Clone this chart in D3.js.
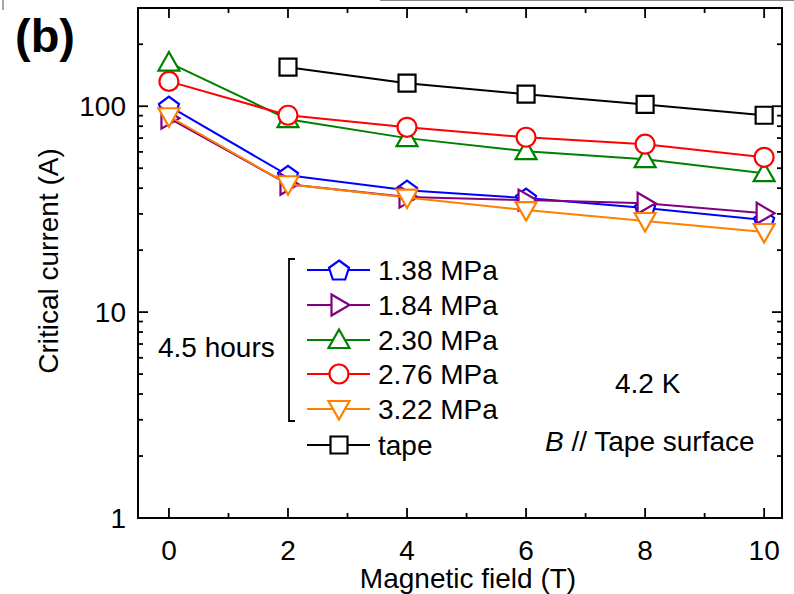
<!DOCTYPE html>
<html><head><meta charset="utf-8">
<script src="https://cdn.jsdelivr.net/npm/d3@7"></script>
<style>body{margin:0;background:#fff}svg{display:block}text{font-family:"Liberation Sans",Arial,sans-serif}</style>
</head><body>
<script>
const fields = [0, 2, 4, 6, 8, 10];
const fieldsTape = [2, 4, 6, 8, 10];
const s138 = [100, 46.2, 39.1, 35.8, 32.0, 28.0];
const s184 = [87.5, 41.8, 36.2, 35.0, 33.8, 30.2];
const s230 = [163, 86.5, 70.0, 60.5, 55.3, 47.3];
const s276 = [132, 90.4, 79.0, 70.7, 65.4, 56.5];
const s322 = [89.4, 41.8, 36.0, 31.3, 27.7, 24.5];
const tape = [154.7, 129.4, 114.4, 102, 90.4];
const seriesNames = ["1.38 MPa", "1.84 MPa", "2.30 MPa", "2.76 MPa", "3.22 MPa", "tape"];
const xTicks = [0, 2, 4, 6, 8, 10];
const yTicks = [1, 10, 100];

const W = 794, H = 594;
const m = {l: 138, r: 12, t: 8, b: 76};
const svg = d3.select("body").append("svg").attr("width", W).attr("height", H);
const x = d3.scaleLinear().domain([-0.52, 10.3]).range([m.l, W - m.r]);
const y = d3.scaleLog().domain([1, 300]).range([H - m.b, m.t]);

svg.append("line").attr("x1", 380).attr("x2", W).attr("y1", 0.5).attr("y2", 0.5).attr("stroke", "#888").attr("stroke-width", 1);
svg.append("line").attr("x1", 3).attr("x2", 3).attr("y1", 0).attr("y2", 10).attr("stroke", "#888").attr("stroke-width", 1.5);

const fs = 28;
const minorX = d3.range(-0, 10.5, 1).filter(v => v % 2 !== 0);
const minorY = [];
[1, 10, 100].forEach(d => { for (let k = 2; k <= 9; k++) { const v = d * k; if (v <= 300) minorY.push(v); } });

const gAx = svg.append("g").attr("stroke", "#000").attr("stroke-width", 1.8);
const x0 = m.l, x1 = W - m.r, y0 = H - m.b, y1 = m.t;
xTicks.forEach(v => {
  gAx.append("line").attr("x1", x(v)).attr("x2", x(v)).attr("y1", y0).attr("y2", y0 - 10);
  gAx.append("line").attr("x1", x(v)).attr("x2", x(v)).attr("y1", y1).attr("y2", y1 + 10);
});
minorX.forEach(v => {
  gAx.append("line").attr("x1", x(v)).attr("x2", x(v)).attr("y1", y0).attr("y2", y0 - 5);
  gAx.append("line").attr("x1", x(v)).attr("x2", x(v)).attr("y1", y1).attr("y2", y1 + 5);
});
yTicks.forEach(v => {
  gAx.append("line").attr("x1", x0).attr("x2", x0 + 10).attr("y1", y(v)).attr("y2", y(v));
  gAx.append("line").attr("x1", x1).attr("x2", x1 - 10).attr("y1", y(v)).attr("y2", y(v));
});
minorY.forEach(v => {
  gAx.append("line").attr("x1", x0).attr("x2", x0 + 5).attr("y1", y(v)).attr("y2", y(v));
  gAx.append("line").attr("x1", x1).attr("x2", x1 - 5).attr("y1", y(v)).attr("y2", y(v));
});
svg.append("rect").attr("x", x0).attr("y", y1).attr("width", x1 - x0).attr("height", y0 - y1)
  .attr("fill", "none").attr("stroke", "#000").attr("stroke-width", 2);

svg.append("g").selectAll("text").data(xTicks).join("text")
  .attr("x", d => x(d)).attr("y", y0 + 42).attr("text-anchor", "middle").attr("font-size", fs).text(d => d);
svg.append("g").selectAll("text").data(yTicks).join("text")
  .attr("x", x0 - 12).attr("y", d => y(d) + 10).attr("text-anchor", "end").attr("font-size", fs).text(d => d);

svg.append("text").attr("x", 468).attr("y", 588).attr("text-anchor", "middle").attr("font-size", fs).text("Magnetic field (T)");
svg.append("text").attr("transform", `translate(58,${(y0 + y1) / 2 - 2}) rotate(-90)`).attr("text-anchor", "middle").attr("font-size", fs).text("Critical current (A)");
svg.append("text").attr("x", 15).attr("y", 52).attr("font-size", 47).attr("font-weight", "bold").text("(b)");

const R = 10.5;
function markerPath(type) {
  switch (type) {
    case "pentagon": {
      const pts = d3.range(5).map(i => { const a = -Math.PI / 2 + i * 2 * Math.PI / 5; return [R * Math.cos(a), R * Math.sin(a) + 1]; });
      return "M" + pts.map(p => p.join(",")).join("L") + "Z";
    }
    case "right": return `M${-7.5},${-R}L${R},0L${-7.5},${R}Z`;
    case "up": return `M0,${-R}L${R},${8}L${-R},${8}Z`;
    case "down": return `M0,${R}L${R},${-8}L${-R},${-8}Z`;
    case "square": return `M${-8.5},${-8.5}H8.5V8.5H-8.5Z`;
  }
}
const series = [
  {name: seriesNames[0], xs: fields, ys: s138, color: "#0000ff", shape: "pentagon"},
  {name: seriesNames[1], xs: fields, ys: s184, color: "#800080", shape: "right"},
  {name: seriesNames[2], xs: fields, ys: s230, color: "#008000", shape: "up"},
  {name: seriesNames[3], xs: fields, ys: s276, color: "#ff0000", shape: "circle"},
  {name: seriesNames[4], xs: fields, ys: s322, color: "#ff8000", shape: "down"},
  {name: seriesNames[5], xs: fieldsTape, ys: tape, color: "#000000", shape: "square"}
];
function drawMarker(g, s, cx, cy) {
  if (s.shape === "circle") {
    g.append("circle").attr("cx", cx).attr("cy", cy).attr("r", 9.5).attr("fill", "#fff").attr("stroke", s.color).attr("stroke-width", 2.2);
  } else {
    g.append("path").attr("d", markerPath(s.shape)).attr("transform", `translate(${cx},${cy})`)
      .attr("fill", "#fff").attr("stroke", s.color).attr("stroke-width", 2.2).attr("stroke-linejoin", "miter");
  }
}
const line = d3.line().x(d => x(d[0])).y(d => y(d[1]));
series.forEach(s => {
  const g = svg.append("g");
  const pts = s.xs.map((v, i) => [v, s.ys[i]]);
  g.append("path").attr("d", line(pts)).attr("fill", "none").attr("stroke", s.color).attr("stroke-width", 2);
  pts.forEach(p => drawMarker(g, s, x(p[0]), y(p[1])));
});

const lg = svg.append("g");
const rowY = [270, 305, 340, 374, 409, 445];
series.forEach((s, i) => {
  lg.append("line").attr("x1", 307).attr("x2", 370).attr("y1", rowY[i]).attr("y2", rowY[i]).attr("stroke", s.color).attr("stroke-width", 2);
  drawMarker(lg, s, 339, rowY[i]);
  lg.append("text").attr("x", 378).attr("y", rowY[i] + 10).attr("font-size", fs).text(s.name);
});
lg.append("path").attr("d", "M295,259H289V421H295").attr("fill", "none").attr("stroke", "#000").attr("stroke-width", 1.8);
svg.append("text").attr("x", 158).attr("y", 357).attr("font-size", fs).text("4.5 hours");
svg.append("text").attr("x", 615).attr("y", 393).attr("font-size", fs).text("4.2 K");
const t = svg.append("text").attr("x", 545).attr("y", 451).attr("font-size", fs);
t.append("tspan").attr("font-style", "italic").text("B");
t.append("tspan").text(" // Tape surface");
</script>
</body></html>
